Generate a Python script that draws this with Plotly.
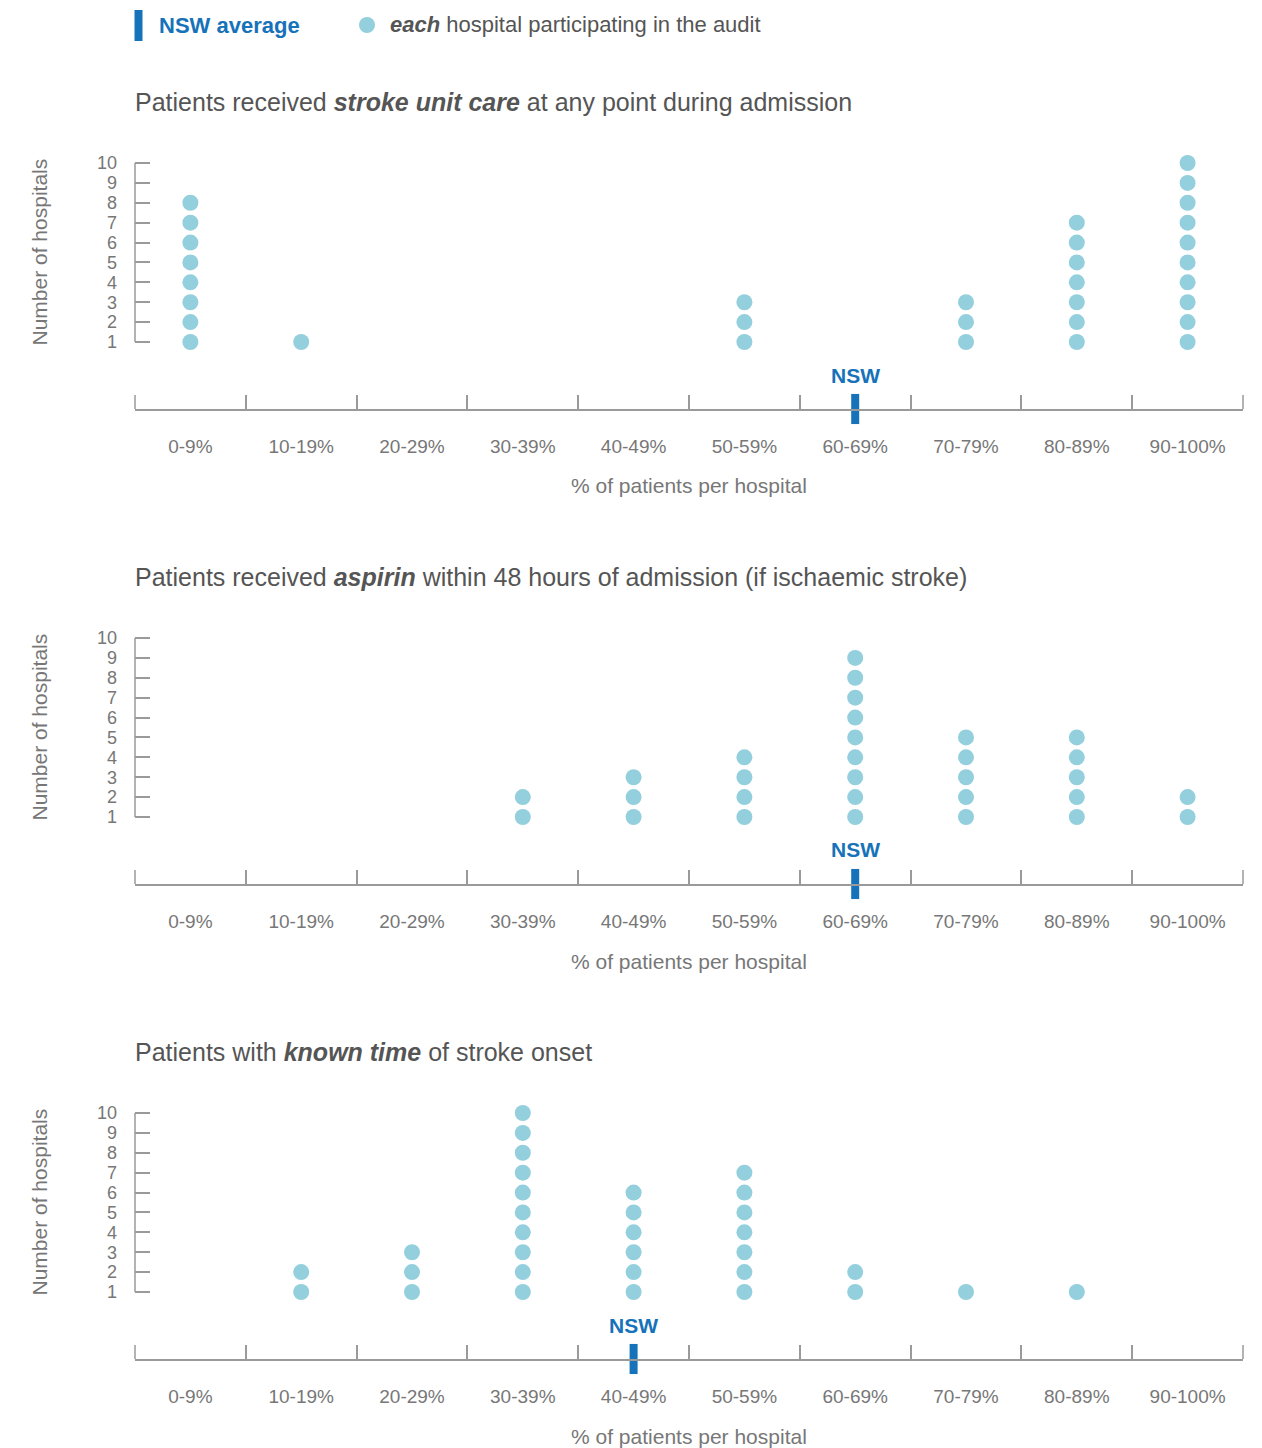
import plotly.graph_objects as go

categories = ["0-9%", "10-19%", "20-29%", "30-39%", "40-49%",
              "50-59%", "60-69%", "70-79%", "80-89%", "90-100%"]

titles = [
    "Patients received <b><i>stroke unit care</i></b> at any point during admission",
    "Patients received <b><i>aspirin</i></b> within 48 hours of admission (if ischaemic stroke)",
    "Patients with <b><i>known time</i></b> of stroke onset",
]

stroke_unit_counts = [8, 1, 0, 0, 0, 3, 0, 3, 7, 10]
aspirin_counts = [0, 0, 0, 2, 3, 4, 9, 5, 5, 2]
known_time_counts = [0, 2, 3, 10, 6, 7, 2, 1, 1, 0]
panel_counts = [stroke_unit_counts, aspirin_counts, known_time_counts]

nsw_bins = ["60-69%", "60-69%", "40-49%"]

y_ticks = list(range(1, 11))

# ---- styling / layout ----
OFF = 8                      # page body margin
W, H = 1262 - OFF, 1448 - OFF
DOT = "#93cfdd"
BLUE = "#1672b9"
AXIS = "#9a9a9a"
TICKTXT = "#777777"
TITLE = "#555555"
FONT = "Liberation Sans, Arial, sans-serif"


def px(x):
    return (x - OFF) / W


def py(y):
    return 1 - (y - OFF) / H


x_left, x_right = 135, 1243
panel_top = [150, 625, 1100]      # px of domain top
panel_bot = [409, 884, 1359]      # px of x-axis line
y1_px = [342, 817, 1292]          # px of value 1
px_per_unit = (342 - 163) / 9.0
TICK_H = 14

fig = go.Figure()

for i in range(3):
    n = i + 1
    xa = "x" if n == 1 else f"x{n}"
    ya = "y" if n == 1 else f"y{n}"
    counts = panel_counts[i]
    xs, ys = [], []
    for cat, c in zip(categories, counts):
        for k in range(1, c + 1):
            xs.append(cat)
            ys.append(k)
    yb = 1 - (panel_bot[i] - y1_px[i]) / px_per_unit
    yt = 10 + (y1_px[i] - 179 - panel_top[i]) / px_per_unit

    fig.add_trace(go.Scatter(
        x=xs, y=ys, mode="markers", xaxis=xa, yaxis=ya,
        marker=dict(size=16, color=DOT, line=dict(width=0)),
        showlegend=False, hoverinfo="skip"))

    fig.add_trace(go.Scatter(
        x=[nsw_bins[i]], y=[yb], mode="markers", xaxis=xa, yaxis=ya,
        marker=dict(symbol="line-ns", size=21.5, line=dict(width=8, color=BLUE), color=BLUE),
        cliponaxis=False, showlegend=False, hoverinfo="skip"))

    fig.add_annotation(x=nsw_bins[i], y=yb, xref=xa, yref=ya, text="<b>NSW</b>",
                       showarrow=False, yshift=34, font=dict(size=21, color=BLUE, family=FONT))

    dom_y = [py(panel_bot[i]), py(panel_top[i])]
    dom_x = [px(x_left), px(x_right)]
    fig.update_layout(**{
        ("xaxis" if n == 1 else f"xaxis{n}"): dict(
            domain=dom_x, anchor=ya, type="category", categoryorder="array",
            categoryarray=categories, range=[-0.5, 9.5], tickson="boundaries",
            ticks="inside", ticklen=TICK_H, tickwidth=1.5, tickcolor=AXIS,
            showline=True, linecolor=AXIS, linewidth=1.5, showgrid=False,
            zeroline=False, automargin=False, ticklabelstandoff=19,
            tickfont=dict(size=19, color=TICKTXT, family=FONT), fixedrange=True),
        ("yaxis" if n == 1 else f"yaxis{n}"): dict(
            domain=dom_y, anchor=xa, range=[yb, yt], tickvals=y_ticks,
            ticks="inside", ticklen=15, tickwidth=1.5, tickcolor=AXIS,
            showline=False, showgrid=False, zeroline=False, automargin=False,
            ticklabelstandoff=17,
            tickfont=dict(size=18, color=TICKTXT, family=FONT), fixedrange=True),
    })

    # y axis line from 1 to 10
    fig.add_shape(type="line", xref=f"{xa} domain", yref=ya, x0=0, x1=0, y0=1, y1=10,
                  line=dict(color=AXIS, width=1.5))
    # end ticks of the x axis
    span = panel_bot[i] - panel_top[i]
    for xd in (0, 1):
        fig.add_shape(type="line", xref=f"{xa} domain", yref=f"{ya} domain",
                      x0=xd, x1=xd, y0=0, y1=TICK_H / span,
                      line=dict(color=AXIS, width=1.5))

    # panel title
    fig.add_annotation(xref="paper", yref="paper", x=px(x_left - 2), y=py(panel_top[i] - 48),
                       xanchor="left", yanchor="middle", showarrow=False, text=titles[i],
                       font=dict(size=25, color=TITLE, family=FONT))
    # y axis title
    fig.add_annotation(xref="paper", yref=ya, x=px(39), y=5.5, textangle=-90,
                       xanchor="center", yanchor="middle", showarrow=False,
                       text="Number of hospitals", font=dict(size=21, color=TICKTXT, family=FONT))
    # x axis title
    fig.add_annotation(xref="paper", yref="paper", x=px((x_left + x_right) / 2),
                       y=py(panel_bot[i] + 77), xanchor="center", yanchor="middle",
                       showarrow=False, text="% of patients per hospital",
                       font=dict(size=21, color=TICKTXT, family=FONT))

# ---- legend ----
fig.add_shape(type="line", xref="paper", yref="paper", x0=px(138.5), x1=px(138.5),
              y0=py(10), y1=py(41), line=dict(color=BLUE, width=8))
fig.add_annotation(xref="paper", yref="paper", x=px(157), y=py(26), xanchor="left",
                   yanchor="middle", showarrow=False, text="<b>NSW average</b>",
                   font=dict(size=22, color=BLUE, family=FONT))
fig.add_shape(type="circle", xref="paper", yref="paper", x0=px(359), x1=px(375),
              y0=py(17), y1=py(33), fillcolor=DOT, line=dict(width=0))
fig.add_annotation(xref="paper", yref="paper", x=px(388), y=py(25), xanchor="left",
                   yanchor="middle", showarrow=False,
                   text="<b><i>each</i></b> hospital participating in the audit",
                   font=dict(size=22, color=TITLE, family=FONT))

fig.update_layout(width=W, height=H, margin=dict(l=0, r=0, t=0, b=0),
                  paper_bgcolor="white", plot_bgcolor="white", showlegend=False,
                  font=dict(family=FONT))

fig.write_html("out.html")
